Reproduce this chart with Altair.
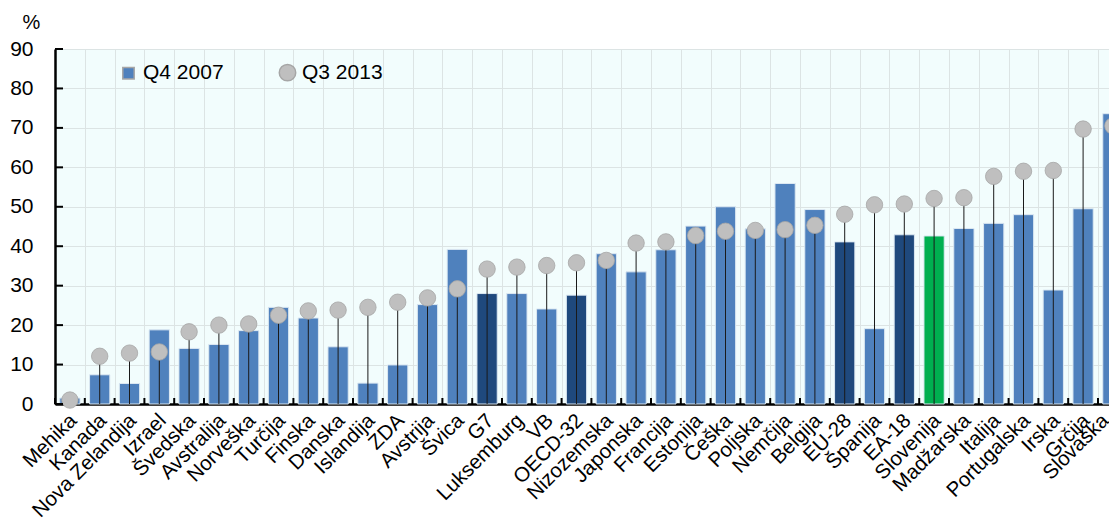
import altair as alt
import pandas as pd

countries = ["Mehika", "Kanada", "Nova Zelandija", "Izrael", "Švedska", "Avstralija",
             "Norveška", "Turčija", "Finska", "Danska", "Islandija", "ZDA", "Avstrija",
             "Švica", "G7", "Luksemburg", "VB", "OECD-32", "Nizozemska", "Japonska",
             "Francija", "Estonija", "Češka", "Poljska", "Nemčija", "Belgija", "EU-28",
             "Španija", "EA-18", "Slovenija", "Madžarska", "Italija", "Portugalska",
             "Irska", "Grčija", "Slovaška"]
q4_2007 = [1.5, 7.4, 5.2, 18.8, 14.1, 15.1, 18.6, 24.5, 21.8, 14.5, 5.3, 9.9, 25.2,
           39.2, 28.0, 28.0, 24.1, 27.6, 38.1, 33.5, 39.1, 45.1, 50.0, 44.4, 55.9,
           49.3, 41.1, 19.1, 42.9, 42.6, 44.5, 45.8, 48.0, 28.9, 49.5, 73.6]
q3_2013 = [1.0, 12.1, 12.9, 13.2, 18.3, 20.0, 20.3, 22.5, 23.6, 23.8, 24.5, 25.8, 26.9,
           29.2, 34.2, 34.7, 35.1, 35.8, 36.4, 40.8, 41.1, 42.7, 43.8, 44.0, 44.2,
           45.3, 48.1, 50.5, 50.7, 52.1, 52.3, 57.7, 59.0, 59.2, 69.7, 70.5]
aggregates = ["G7", "OECD-32", "EU-28", "EA-18"]
highlight = ["Slovenija"]
series_names = ["Q4 2007", "Q3 2013"]
y_ticks = [0, 10, 20, 30, 40, 50, 60, 70, 80, 90]

groups = ["agg" if c in aggregates else ("hl" if c in highlight else "base") for c in countries]
df = pd.DataFrame({"country": countries, "q4": q4_2007, "q3": q3_2013,
                   "grp": groups, "series": series_names[1], "zero": 0})
ticks_df = pd.DataFrame({"v": y_ticks})

FONT = "Liberation Sans, Arial, sans-serif"
H = 355
W = 1054
STEP = 29.8
xscale = alt.Scale(paddingInner=0, paddingOuter=0, range=[0, STEP * len(countries)])
yscale = alt.Scale(domain=[0, 90], nice=False)

last_label = countries[-1]
xaxis = alt.Axis(labelAngle=-45, labelFontSize=20.5, labelFont=FONT,
                 labelColor="#000000", labelOverlap=False, labelPadding=6,
                 labelOffset={"condition": {"test": f"datum.value === '{last_label}'",
                                            "value": -15}, "value": -4},
                 labelBound=False, labelFlush=False,
                 ticks=False, tickBand="extent", grid=True,
                 gridColor="#DCE4E4", gridWidth=1,
                 domainColor="#000000", domainWidth=2.5)
yaxis = alt.Axis(values=y_ticks, labelFontSize=21, labelFont=FONT,
                 labelColor="#000000", ticks=False, tickSize=0, labelPadding=22,
                 labelOverlap=False, labelFlush=False, labelBound=False,
                 grid=True, gridColor="#DCE4E4", domainColor="#000000",
                 domainWidth=2.5, titleAngle=0, titleFont=FONT,
                 titleFontSize=20, titleFontWeight="normal", titleColor="#000000",
                 titleAlign="center", titleBaseline="alphabetic",
                 titleX=-24, titleY=-21)


def xe(**kw):
    return alt.X("country:N", sort=countries, title=None, scale=xscale, axis=xaxis, **kw)


def ye(field):
    return alt.Y(field, scale=yscale, title="%", axis=yaxis)


bars = alt.Chart(df).mark_bar(width=alt.RelativeBandSize(0.68), stroke="#DCE8F2",
                              strokeWidth=1).encode(
    x=xe(),
    y=ye("q4:Q"),
    color=alt.Color("grp:N", legend=None,
                    scale=alt.Scale(domain=["base", "agg", "hl"],
                                    range=["#4F81BD", "#1F497D", "#00B050"])),
)

stems = alt.Chart(df).mark_rule(color="#1A1A1A", strokeWidth=1).encode(
    x=xe(),
    y=ye("zero:Q"),
    y2="q3:Q",
)

points = alt.Chart(df).mark_point(filled=True, opacity=1, stroke="#A6A6A6",
                                  strokeWidth=0.8).encode(
    x=xe(),
    y=ye("q3:Q"),
    color=alt.Color("series:N", title=None,
                    scale=alt.Scale(domain=series_names, range=["#4F81BD", "#BFBFBF"]),
                    legend=alt.Legend(orient="none", legendX=63, legendY=13,
                                      direction="horizontal", labelFont=FONT,
                                      labelFontSize=21, labelColor="#000000",
                                      columnPadding=52, padding=0, labelOffset=4)),
    shape=alt.Shape("series:N", title=None,
                    scale=alt.Scale(domain=series_names, range=["square", "circle"])),
    size=alt.Size("series:N", title=None,
                  scale=alt.Scale(domain=series_names, range=[130, 270])),
)

xticks = alt.Chart(df).mark_rule(color="#000000", strokeWidth=2).encode(
    x=xe(bandPosition=0),
    y=alt.value(H),
    y2=alt.value(H - 6),
)

yticks = alt.Chart(ticks_df).mark_rule(color="#000000", strokeWidth=2).encode(
    y=ye("v:Q"),
    x=alt.value(0),
    x2=alt.value(8),
)

chart = alt.layer(bars, stems, points, xticks, yticks).resolve_scale(
    color="independent", shape="independent", size="independent"
).properties(
    width=W, height=H,
    autosize=alt.AutoSizeParams(type="none"),
    padding={"left": 47, "top": 41, "right": 0, "bottom": 118},
).configure_view(fill="#F2FDFD", stroke=None)

chart.save("out.html", embed_options={"renderer": "svg", "actions": False})
